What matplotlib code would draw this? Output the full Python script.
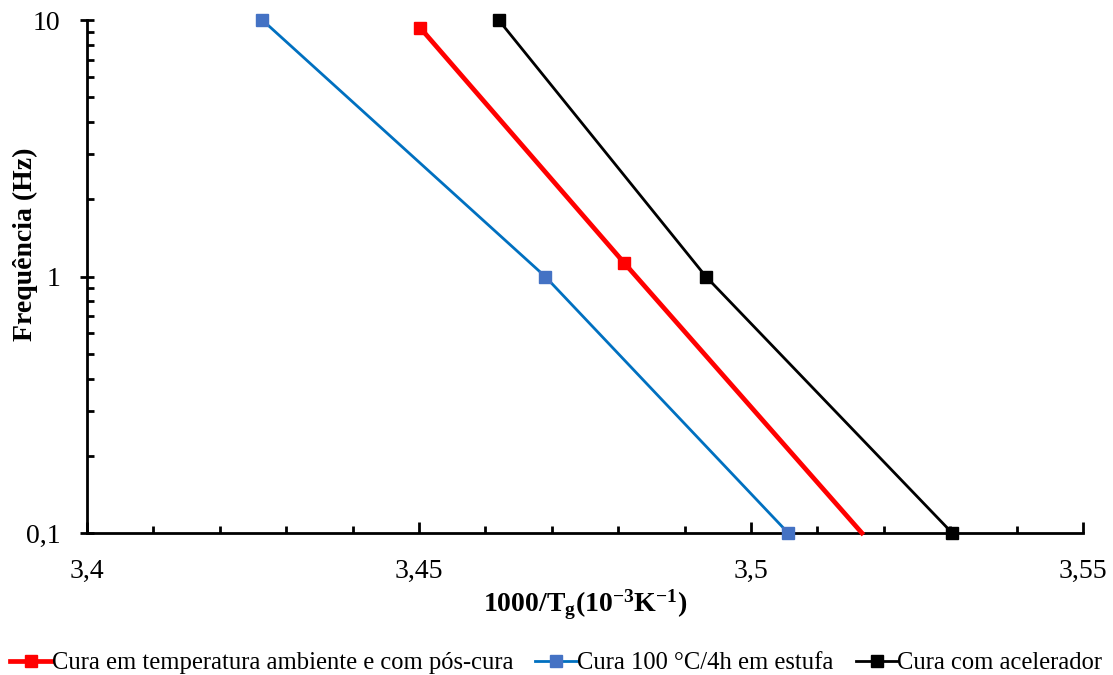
import numpy as np
import matplotlib
matplotlib.use("Agg")
import matplotlib.pyplot as plt
from matplotlib.ticker import MultipleLocator, FixedLocator, LogLocator, NullFormatter, FuncFormatter

plt.rcParams['font.family'] = ['Liberation Serif', 'DejaVu Serif']
plt.rcParams['mathtext.fontset'] = 'custom'
plt.rcParams['mathtext.rm'] = 'Liberation Serif'
plt.rcParams['mathtext.bf'] = 'Liberation Serif:bold'
plt.rcParams['mathtext.it'] = 'Liberation Serif:italic'
plt.rcParams['axes.unicode_minus'] = False

# data
red_x = [3.4502, 3.4809, 3.5167]
red_y = [9.31, 1.13, 0.1]
blue_x = [3.4264, 3.4690, 3.5056]
blue_y = [10.0, 1.0, 0.1]
black_x = [3.4620, 3.4932, 3.5303]
black_y = [10.0, 1.0, 0.1]

labels = ["Cura em temperatura ambiente e com pós-cura",
          "Cura 100 °C/4h em estufa",
          "Cura com acelerador"]

fig = plt.figure(figsize=(11.13, 6.75), dpi=100)
ax = fig.add_axes([87/1113, 1 - 533/675, (1083-87)/1113, (533-20)/675])

ax.plot(red_x, red_y, color='#FF0000', lw=3.4, marker='s', ms=9,
        markevery=[0, 1], label=labels[0], clip_on=False, zorder=3)
ax.plot(blue_x, blue_y, color='#0070C0', lw=2.0, marker='s', ms=9,
        mfc='#4472C4', mec='#4472C4', label=labels[1], clip_on=False, zorder=3)
ax.plot(black_x, black_y, color='black', lw=2.0, marker='s', ms=9,
        label=labels[2], clip_on=False, zorder=3)

ax.set_yscale('log')
ax.set_xlim(3.4, 3.55)
ax.set_ylim(0.1, 10)

ax.xaxis.set_major_locator(FixedLocator([3.4, 3.45, 3.5, 3.55]))
ax.xaxis.set_minor_locator(MultipleLocator(0.01))
ax.xaxis.set_major_formatter(FuncFormatter(lambda v, p: ('%g' % round(v, 2)).replace('.', ',')))
ax.yaxis.set_major_locator(FixedLocator([0.1, 1, 10]))
ax.yaxis.set_minor_locator(LogLocator(base=10, subs=np.arange(2, 10)))
ax.yaxis.set_minor_formatter(NullFormatter())
ax.yaxis.set_major_formatter(FuncFormatter(lambda v, p: ('%g' % v).replace('.', ',')))

ax.tick_params(axis='x', which='major', direction='in', length=8, width=2, labelsize=20, pad=19)
ax.tick_params(axis='x', which='minor', direction='in', length=5, width=2)
ax.tick_params(axis='y', which='major', direction='inout', length=10, width=2, labelsize=20, pad=14)
ax.tick_params(axis='y', which='minor', direction='in', length=5, width=2)

for s in ['top', 'right']:
    ax.spines[s].set_visible(False)
for s in ['left', 'bottom']:
    ax.spines[s].set_linewidth(2)

ax.set_xlabel(r'1000/T$_{\mathbf{g}}$(10$^{\mathbf{-3}}$K$^{\mathbf{-1}}$)', fontsize=20,
              fontweight='bold')
ax.xaxis.set_label_coords(0.5, -(605 - 533) / 513, transform=ax.transAxes)
ax.xaxis.label.set_va('center')
ax.set_ylabel('Frequência (Hz)', fontsize=20, fontweight='bold')
ax.yaxis.set_label_coords((25 - 87) / 996, (533 - 244) / 513, transform=ax.transAxes)
ax.yaxis.label.set_va('center')

ax.legend(loc='center left', bbox_to_anchor=(10/1113, 12/675), bbox_transform=fig.transFigure,
          ncol=3, frameon=False, fontsize=17.7, handlelength=1.7, handletextpad=0.0,
          columnspacing=0.9, borderaxespad=0, borderpad=0)

fig.savefig('out.png', dpi=100)
